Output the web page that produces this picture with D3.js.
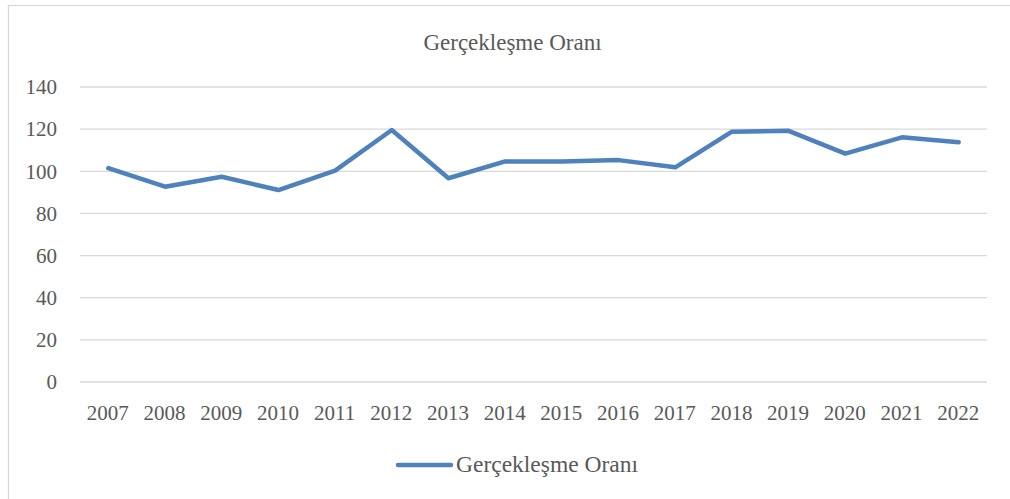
<!DOCTYPE html>
<html>
<head>
    <meta charset="utf-8">
    <title>Gerçekleşme Oranı</title>
    <style>
        body { margin: 0; background: #fff; }
        text { font-family: "Liberation Serif", serif; fill: #595959; }
        .grid line { stroke: #d9d9d9; stroke-width: 1.3px; }
        .line { fill: none; stroke: #4f81bd; stroke-width: 4.5px; stroke-linejoin: round; stroke-linecap: round; }
    </style>
</head>
<body>
<script src="https://d3js.org/d3.v7.min.js"></script>
<script>
    // data
    var years = ["2007", "2008", "2009", "2010", "2011", "2012", "2013", "2014",
                 "2015", "2016", "2017", "2018", "2019", "2020", "2021", "2022"];
    var oran = [101.5, 92.7, 97.4, 91.1, 100.3, 119.6, 96.7, 104.7,
                104.7, 105.3, 101.9, 118.8, 119.2, 108.4, 116.1, 113.8];
    var yTicks = [0, 20, 40, 60, 80, 100, 120, 140];
    var seriesName = "Gerçekleşme Oranı";

    var width = 1010, height = 499;
    var margin = {top: 87, right: 23, bottom: 117, left: 80};

    var svg = d3.select("body").append("svg")
        .attr("width", width)
        .attr("height", height);

    // chart border
    svg.append("rect")
        .attr("x", 8.5).attr("y", 5.5)
        .attr("width", 1010).attr("height", 520)
        .attr("fill", "none")
        .attr("stroke", "#d9d9d9")
        .attr("stroke-width", 1.3);

    var x = d3.scaleBand()
        .domain(years)
        .range([margin.left, width - margin.right]);

    var y = d3.scaleLinear()
        .domain([0, 140])
        .range([height - margin.bottom, margin.top]);

    // gridlines
    svg.append("g")
        .attr("class", "grid")
        .selectAll("line")
        .data(yTicks)
        .enter().append("line")
        .attr("x1", margin.left)
        .attr("x2", width - margin.right)
        .attr("y1", function (d) { return y(d); })
        .attr("y2", function (d) { return y(d); });

    // y labels
    svg.append("g")
        .selectAll("text")
        .data(yTicks)
        .enter().append("text")
        .attr("x", 57)
        .attr("y", function (d) { return y(d); })
        .attr("dy", "0.35em")
        .attr("text-anchor", "end")
        .style("font-size", "21px")
        .text(function (d) { return d; });

    // x labels
    svg.append("g")
        .selectAll("text")
        .data(years)
        .enter().append("text")
        .attr("x", function (d) { return x(d) + x.bandwidth() / 2 - 0.5; })
        .attr("y", 420)
        .attr("text-anchor", "middle")
        .style("font-size", "21px")
        .text(function (d) { return d; });

    // series line
    var line = d3.line()
        .x(function (d, i) { return x(years[i]) + x.bandwidth() / 2; })
        .y(function (d) { return y(d); });

    svg.append("path")
        .datum(oran)
        .attr("class", "line")
        .attr("d", line);

    // title
    svg.append("text")
        .attr("x", 512.5)
        .attr("y", 50)
        .attr("text-anchor", "middle")
        .style("font-size", "23px")
        .text(seriesName);

    // legend
    var legend = svg.append("g");
    legend.append("line")
        .attr("x1", 398).attr("x2", 451)
        .attr("y1", 465).attr("y2", 465)
        .attr("stroke", "#4f81bd")
        .attr("stroke-width", 4.5)
        .attr("stroke-linecap", "round");
    legend.append("text")
        .attr("x", 456)
        .attr("y", 472)
        .style("font-size", "23.5px")
        .text(seriesName);
</script>
</body>
</html>
